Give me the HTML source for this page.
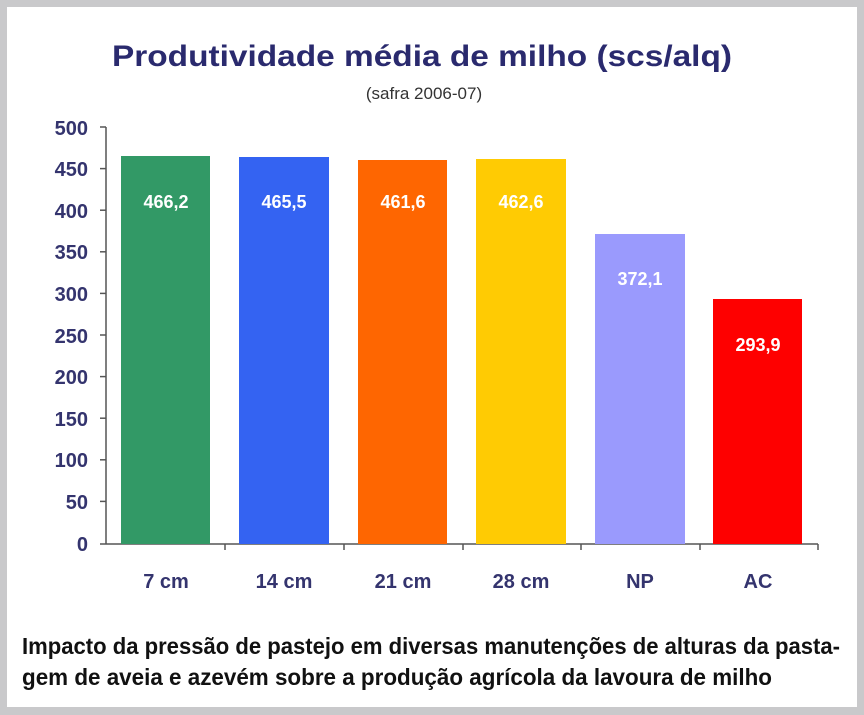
<!DOCTYPE html>
<html><head><meta charset="utf-8"><style>
html,body{margin:0;padding:0;background:#c8c8c8;}
svg{display:block}
</style></head><body>
<svg width="864" height="715" xmlns="http://www.w3.org/2000/svg" font-family="Liberation Sans, sans-serif">
<rect x="0" y="0" width="864" height="715" fill="#c9c9cb"/>
<rect x="7" y="7" width="850" height="700" fill="#ffffff"/>
<text x="422" y="66" text-anchor="middle" font-size="30" font-weight="bold" fill="#2a2a6e" textLength="620" lengthAdjust="spacingAndGlyphs">Produtividade média de milho (scs/alq)</text>
<text x="424" y="99" text-anchor="middle" font-size="17" fill="#333">(safra 2006-07)</text>
<g stroke="#555" stroke-width="1.5" fill="none">
<line x1="106" y1="127" x2="106" y2="544"/>
<line x1="106" y1="544" x2="818" y2="544"/>
<line x1="100" y1="127" x2="106" y2="127"/><line x1="100" y1="168.6" x2="106" y2="168.6"/>
<line x1="100" y1="210.2" x2="106" y2="210.2"/><line x1="100" y1="251.8" x2="106" y2="251.8"/>
<line x1="100" y1="293.4" x2="106" y2="293.4"/><line x1="100" y1="335" x2="106" y2="335"/>
<line x1="100" y1="376.6" x2="106" y2="376.6"/><line x1="100" y1="418.2" x2="106" y2="418.2"/>
<line x1="100" y1="459.8" x2="106" y2="459.8"/><line x1="100" y1="501.4" x2="106" y2="501.4"/>
<line x1="100" y1="544" x2="106" y2="544"/>
<line x1="225" y1="544" x2="225" y2="550"/><line x1="344" y1="544" x2="344" y2="550"/>
<line x1="463" y1="544" x2="463" y2="550"/><line x1="581" y1="544" x2="581" y2="550"/>
<line x1="700" y1="544" x2="700" y2="550"/><line x1="818" y1="544" x2="818" y2="550"/>
</g>
<g font-size="20" font-weight="bold" fill="#34346e" text-anchor="end">
<text x="88" y="135">500</text><text x="88" y="176">450</text><text x="88" y="218">400</text>
<text x="88" y="259">350</text><text x="88" y="301">300</text><text x="88" y="343">250</text>
<text x="88" y="384">200</text><text x="88" y="426">150</text><text x="88" y="467">100</text>
<text x="88" y="509">50</text><text x="88" y="551">0</text>
</g>
<rect x="121" y="156" width="89" height="388" fill="#329966"/>
<rect x="239" y="157" width="90" height="387" fill="#3463f2"/>
<rect x="358" y="160" width="89" height="384" fill="#fe6601"/>
<rect x="476" y="159" width="90" height="385" fill="#ffcb03"/>
<rect x="595" y="234" width="90" height="310" fill="#9a9afd"/>
<rect x="713" y="299" width="89" height="245" fill="#fe0000"/>
<g font-size="18" font-weight="bold" fill="#ffffff" text-anchor="middle">
<text x="166" y="208">466,2</text><text x="284" y="208">465,5</text>
<text x="403" y="208">461,6</text><text x="521" y="208">462,6</text>
<text x="640" y="285">372,1</text><text x="758" y="351">293,9</text>
</g>
<g font-size="20" font-weight="bold" fill="#34346e" text-anchor="middle">
<text x="166" y="588">7 cm</text><text x="284" y="588">14 cm</text>
<text x="403" y="588">21 cm</text><text x="521" y="588">28 cm</text>
<text x="640" y="588">NP</text><text x="758" y="588">AC</text>
</g>
<g font-size="23" font-weight="bold" fill="#111">
<text x="22" y="654" textLength="818" lengthAdjust="spacingAndGlyphs">Impacto da pressão de pastejo em diversas manutenções de alturas da pasta-</text>
<text x="22" y="685" textLength="750" lengthAdjust="spacingAndGlyphs">gem de aveia e azevém sobre a produção agrícola da lavoura de milho</text>
</g>
</svg>
</body></html>
